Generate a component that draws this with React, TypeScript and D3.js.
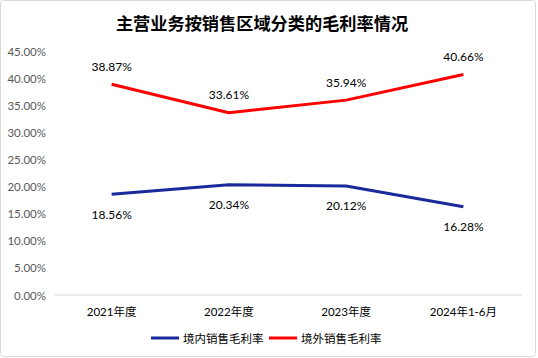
import React from "react";
import * as d3 from "d3";

const title = "主营业务按销售区域分类的毛利率情况";
const categories = ["2021年度", "2022年度", "2023年度", "2024年1-6月"];
const domesticName = "境内销售毛利率";
const foreignName = "境外销售毛利率";
const domestic = [18.56, 20.34, 20.12, 16.28];
const foreign = [38.87, 33.61, 35.94, 40.66];
const yTicks = [0, 5, 10, 15, 20, 25, 30, 35, 40, 45];

const W = 538;
const H = 358;
const FONT = "Lato, 'Noto Sans CJK SC', sans-serif";
const CJK = "'Noto Sans CJK SC', sans-serif";

export default function App() {
  const x = d3.scaleBand<string>().domain(categories).range([53, 522]);
  const y = d3.scaleLinear().domain([0, 45]).range([295, 51]);
  const cx = (c: string) => (x(c) as number) + x.bandwidth() / 2;
  const line = d3
    .line<number>()
    .x((_, i) => cx(categories[i]))
    .y((d) => y(d));

  const series = [
    { name: domesticName, values: domestic, color: "#1A2A9A", dy: 20 },
    { name: foreignName, values: foreign, color: "#FF0000", dy: -18 },
  ];

  return (
    <svg
      width={W}
      height={H}
      style={{ position: "absolute", left: 0, top: 0 }}
    >
      <rect x={0.5} y={0.5} width={535} height={356} fill="#fff" stroke="#d9d9d9" rx={3} />
      <text
        x={262}
        y={22}
        textAnchor="middle"
        dominantBaseline="central"
        fontFamily={CJK}
        fontWeight="bold"
        fontSize={17.2}
        fill="#000"
      >
        {title}
      </text>
      {yTicks.map((t) => (
        <text
          key={t}
          x={46}
          y={y(t)}
          textAnchor="end"
          dominantBaseline="central"
          fontFamily={FONT}
          fontSize={11.5}
          fill="#595959"
        >
          {t.toFixed(2)}%
        </text>
      ))}
      <line x1={55} x2={522} y1={y(0)} y2={y(0)} stroke="#d9d9d9" strokeWidth={1} />
      {categories.map((c) => (
        <text
          key={c}
          x={cx(c)}
          y={311}
          textAnchor="middle"
          dominantBaseline="central"
          fontFamily={FONT}
          fontSize={11.5}
          fill="#000"
        >
          {c}
        </text>
      ))}
      {series.map((s) => (
        <g key={s.name}>
          <path d={line(s.values) || ""} fill="none" stroke={s.color} strokeWidth={3} strokeLinejoin="round" />
          {s.values.map((v, i) => (
            <text
              key={i}
              x={cx(categories[i])}
              y={y(v) + s.dy}
              textAnchor="middle"
              dominantBaseline="central"
              fontFamily={FONT}
              fontSize={12}
              fill="#000"
            >
              {v.toFixed(2)}%
            </text>
          ))}
        </g>
      ))}
      {series.map((s, i) => {
        const lx = i === 0 ? 151 : 269;
        return (
          <g key={s.name}>
            <line x1={lx} x2={lx + 28} y1={338} y2={338} stroke={s.color} strokeWidth={3} />
            <text
              x={lx + 32}
              y={338}
              dominantBaseline="central"
              fontFamily={CJK}
              fontSize={11.5}
              fill="#000"
            >
              {s.name}
            </text>
          </g>
        );
      })}
    </svg>
  );
}
